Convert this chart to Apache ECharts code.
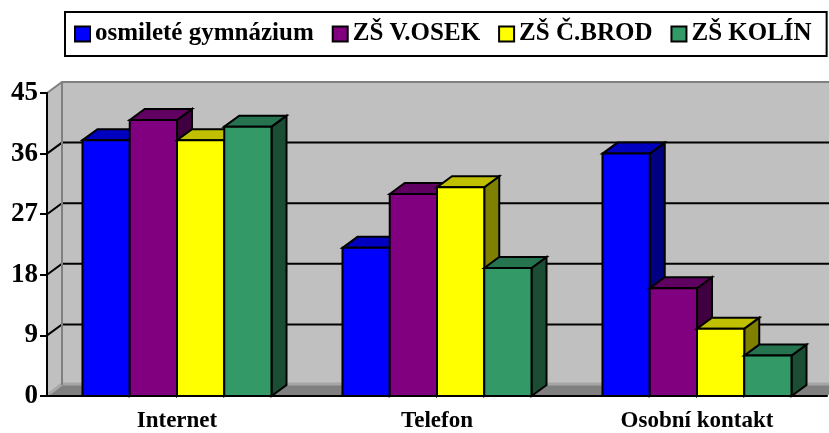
<!DOCTYPE html>
<html>
<head>
<meta charset="utf-8">
<script src="https://cdn.jsdelivr.net/npm/echarts@6/dist/echarts.min.js"></script>
<style>
  html, body { margin: 0; padding: 0; background: #fff; }
  #main { width: 829px; height: 433px; }
</style>
</head>
<body>
<div id="main"></div>
<script>
let categories = ['Internet', 'Telefon', 'Osobní kontakt'];
let schools = ['osmileté gymnázium', 'ZŠ V.OSEK', 'ZŠ Č.BROD', 'ZŠ KOLÍN'];
let gymnazium = [38, 22, 36];
let vOsek = [41, 30, 16];
let cBrod = [38, 31, 10];
let kolin = [40, 19, 6];
let yTicks = [0, 9, 18, 27, 36, 45];

// front / top / side shades per school
let faces = [
    ['#0000ff', '#0000c0', '#000080'],
    ['#800080', '#600060', '#400040'],
    ['#ffff00', '#c0c000', '#808000'],
    ['#339966', '#267350', '#1a4d33']
];
let values = [gymnazium, vOsek, cBrod, kolin];

const DX = 15, DY = 11;
const GROUP = 0.727;
const FONT = 'Liberation Serif';

let myChart = echarts.init(document.getElementById('main'));

function renderWalls(params, api) {
    let cs = params.coordSys;
    let x0 = cs.x, x1 = cs.x + cs.width, yt = cs.y, yb = cs.y + cs.height;
    let kids = [];
    kids.push({ type: 'polygon', shape: { points: [[x0 + DX, yt - DY], [x1 + DX, yt - DY], [x1 + DX, yb - DY], [x0 + DX, yb - DY]] },
        style: { fill: '#c0c0c0' } });
    kids.push({ type: 'polygon', shape: { points: [[x0, yt], [x0 + DX, yt - DY], [x0 + DX, yb - DY], [x0, yb]] },
        style: { fill: '#c0c0c0' } });
    kids.push({ type: 'polygon', shape: { points: [[x0, yb], [x0 + DX, yb - DY], [x1 + DX, yb - DY], [x1, yb]] },
        style: { fill: '#808080' } });
    kids.push({ type: 'polyline', shape: { points: [[x0 + 2, yb - 2], [x0 + DX, yb - DY - 1], [x1 + DX, yb - DY - 1]] },
        style: { stroke: '#a6a6a6', lineWidth: 3, fill: null } });
    yTicks.forEach(function (v) {
        if (v === 0 || v === yTicks[yTicks.length - 1]) return;
        let y = api.coord([0, v])[1];
        kids.push({ type: 'polyline', shape: { points: [[x0, y], [x0 + DX, y - DY], [x1 + DX, y - DY]] },
            style: { stroke: '#000', lineWidth: 2, fill: null } });
    });
    kids.push({ type: 'polyline', shape: { points: [[x0, yt], [x0 + DX, yt - DY], [x1 + DX, yt - DY]] },
        style: { stroke: '#808080', lineWidth: 2, fill: null } });
    kids.push({ type: 'line', shape: { x1: x0 + DX, y1: yt - DY, x2: x0 + DX, y2: yb - DY },
        style: { stroke: '#808080', lineWidth: 2 } });
    return { type: 'group', children: kids };
}

function barRenderer(idx) {
    return function (params, api) {
        let cat = api.value(0), val = api.value(1);
        let top = api.coord([cat, val]);
        let base = api.coord([cat, 0]);
        let band = api.size([1, 0])[0];
        let gw = band * GROUP;
        let w = gw / schools.length;
        let x = top[0] - gw / 2 + idx * w;
        let yt = top[1], yb = base[1];
        let c = faces[idx];
        let st = { stroke: '#000', lineWidth: 2, lineJoin: 'miter' };
        return {
            type: 'group',
            children: [
                { type: 'polygon', shape: { points: [[x + w, yt], [x + w + DX, yt - DY], [x + w + DX, yb - DY], [x + w, yb]] },
                    style: Object.assign({ fill: c[2] }, st) },
                { type: 'polygon', shape: { points: [[x, yt], [x + DX, yt - DY], [x + w + DX, yt - DY], [x + w, yt]] },
                    style: Object.assign({ fill: c[1] }, st) },
                { type: 'rect', shape: { x: x, y: yt, width: w, height: yb - yt },
                    style: Object.assign({ fill: c[0] }, st) }
            ]
        };
    };
}

let series = [{
    type: 'custom',
    name: 'walls',
    silent: true,
    z: 1,
    renderItem: renderWalls,
    data: [[0, 0]]
}];
schools.forEach(function (name, i) {
    series.push({
        type: 'custom',
        name: name,
        z: 3 + i,
        itemStyle: { color: faces[i][0] },
        renderItem: barRenderer(i),
        data: values[i].map(function (v, k) { return [k, v]; })
    });
});

let option = {
    animation: false,
    color: faces.map(function (f) { return f[0]; }),
    legend: {
        data: schools,
        left: 65,
        top: 12,
        padding: [9, 15, 9, 9],
        itemGap: 18,
        itemWidth: 15,
        itemHeight: 15,
        icon: 'rect',
        backgroundColor: '#fff',
        borderColor: '#000',
        borderWidth: 2,
        borderRadius: 0,
        itemStyle: { borderColor: '#000', borderWidth: 2 },
        textStyle: { fontFamily: FONT, fontWeight: 'bold', fontSize: 25, color: '#000', lineHeight: 26 }
    },
    grid: { left: 47, right: 2, top: 93, bottom: 35 },
    xAxis: {
        type: 'category',
        data: categories,
        z: 10,
        axisLine: { lineStyle: { color: '#000', width: 2 } },
        axisTick: { length: 6, lineStyle: { color: '#000', width: 2 } },
        axisLabel: { fontFamily: FONT, fontWeight: 'bold', fontSize: 23, color: '#000', margin: 14 }
    },
    yAxis: {
        type: 'value',
        min: 0,
        max: 45,
        interval: 9,
        z: 10,
        axisLine: { show: true, lineStyle: { color: '#000', width: 2 } },
        axisTick: { show: true, length: 7, lineStyle: { color: '#000', width: 2 } },
        splitLine: { show: false },
        axisLabel: { fontFamily: FONT, fontWeight: 'bold', fontSize: 27, color: '#000', margin: 9 }
    },
    series: series
};

myChart.setOption(option);
</script>
</body>
</html>
